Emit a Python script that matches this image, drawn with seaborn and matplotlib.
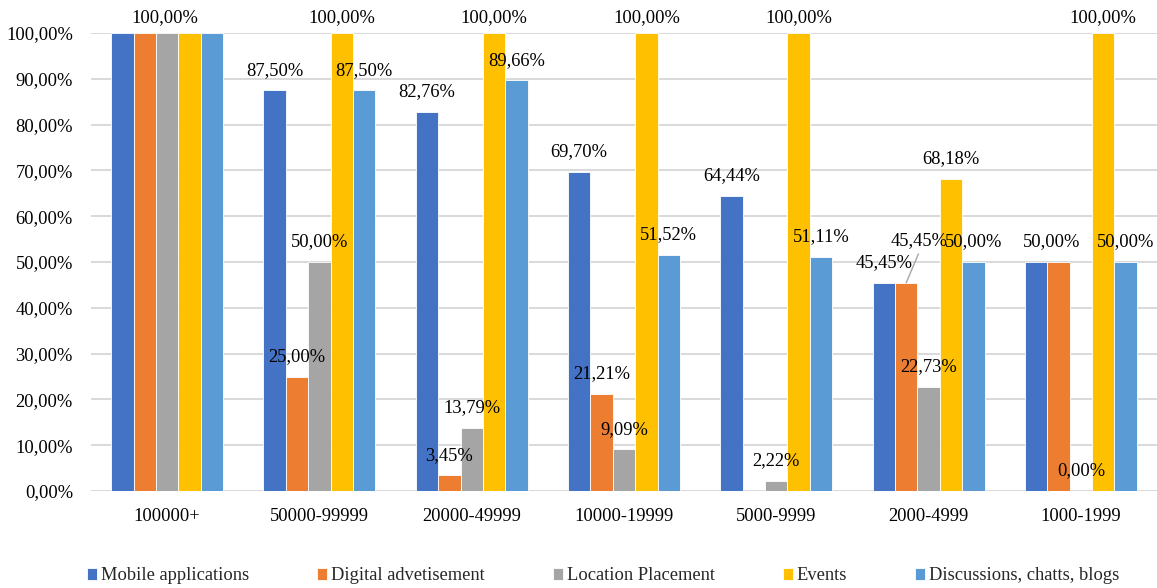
import numpy as np
import pandas as pd
import matplotlib
matplotlib.use("Agg")
import matplotlib.pyplot as plt
import seaborn as sns

# Population size groups and channel shares (%)
sizes = ["100000+", "50000-99999", "20000-49999", "10000-19999",
         "5000-9999", "2000-4999", "1000-1999"]
channels = ["Mobile applications", "Digital advetisement", "Location Placement",
            "Events", "Discussions, chatts, blogs"]

mobile_apps = [100.00, 87.50, 82.76, 69.70, 64.44, 45.45, 50.00]
digital_ads = [100.00, 25.00, 3.45, 21.21, np.nan, 45.45, 50.00]
location_placement = [100.00, 50.00, 13.79, 9.09, 2.22, 22.73, 0.00]
events = [100.00, 100.00, 100.00, 100.00, 100.00, 68.18, 100.00]
discussions = [100.00, 87.50, 89.66, 51.52, 51.11, 50.00, 50.00]

colors = ["#4472C4", "#ED7D31", "#A5A5A5", "#FFC000", "#5B9BD5"]

series = [mobile_apps, digital_ads, location_placement, events, discussions]
df = pd.DataFrame(
    [(s, ch, v) for ch, vals in zip(channels, series) for s, v in zip(sizes, vals)],
    columns=["size", "channel", "share"],
).dropna()

sns.set_theme(style="white")
plt.rcParams["font.family"] = ["Liberation Serif", "DejaVu Serif"]
FS = 13.3

fig = plt.figure(figsize=(11.57, 5.88), dpi=100)
ax = fig.add_axes([91 / 1157, 1 - 491 / 588, 1 - 91 / 1157, 458 / 588])

group_w = 0.735
sns.barplot(data=df, x="size", y="share", hue="channel", order=sizes,
            hue_order=channels, palette=colors, width=group_w, gap=0,
            edgecolor="white", linewidth=0.6, saturation=1, ax=ax)
handles, labels = ax.get_legend_handles_labels()
if ax.get_legend() is not None:
    ax.get_legend().remove()

ax.set_xlim(-0.5, len(sizes) - 0.5)
ax.set_ylim(0, 100)
ax.set_yticks(np.arange(0, 101, 10))
ax.set_yticklabels([f"{v:.2f}".replace(".", ",") + "%" for v in np.arange(0, 101, 10)])
ax.yaxis.grid(True, color="#d9d9d9", linewidth=1.4)
ax.set_axisbelow(True)
for sp in ax.spines.values():
    sp.set_visible(False)
ax.tick_params(axis="both", length=0, labelsize=FS, colors="black")
ax.tick_params(axis="y", pad=13)
ax.tick_params(axis="x", pad=12)
ax.set_xlabel("")
ax.set_ylabel("")

# Label tweaks: hidden labels and nudged ones (pixel shifts)
hidden = {(0, 0), (1, 0), (3, 0), (4, 0), (0, 6)}
nudges = {(2, 0): (-2, 0), (1, 6): (-7, 0)}
leader = {(1, 5): (13, -22)}

bar_w = group_w / len(channels)
for p in ax.patches:
    w = p.get_width()
    if w <= 0 or w > 0.5:
        continue
    xc = p.get_x() + w / 2
    cat = int(round(xc))
    hue = int(round((xc - cat) / bar_w)) + 2
    if (hue, cat) in hidden:
        continue
    val = p.get_height()
    txt = f"{val:.2f}".replace(".", ",") + "%"
    dy_px = 15 if val >= 99 else 20
    dx_px = 0
    if (hue, cat) in nudges:
        dx_px, extra = nudges[(hue, cat)]
        dy_px -= extra
    if (hue, cat) in leader:
        ldx, ldy = leader[(hue, cat)]
        ax.annotate(txt, xy=(xc, val), xytext=(ldx * 0.72, (dy_px - ldy) * 0.72),
                    textcoords="offset points", ha="center", va="center",
                    fontsize=FS, color="black", annotation_clip=False,
                    arrowprops=dict(arrowstyle="-", color="#a6a6a6", lw=1.0,
                                    relpos=(0.52, 0.0), shrinkA=1, shrinkB=0))
        continue
    ax.annotate(txt, xy=(xc, val), xytext=(dx_px * 0.72, dy_px * 0.72),
                textcoords="offset points", ha="center", va="center",
                fontsize=FS, color="black", annotation_clip=False)

fig.legend(handles, labels, loc="center", bbox_to_anchor=(603 / 1157, 1 - 576 / 588),
           ncol=5, frameon=False, fontsize=FS, handlelength=0.55, handleheight=0.55,
           handletextpad=0.2, columnspacing=3.68, borderaxespad=0, borderpad=0)

fig.savefig("out.png", dpi=100)
